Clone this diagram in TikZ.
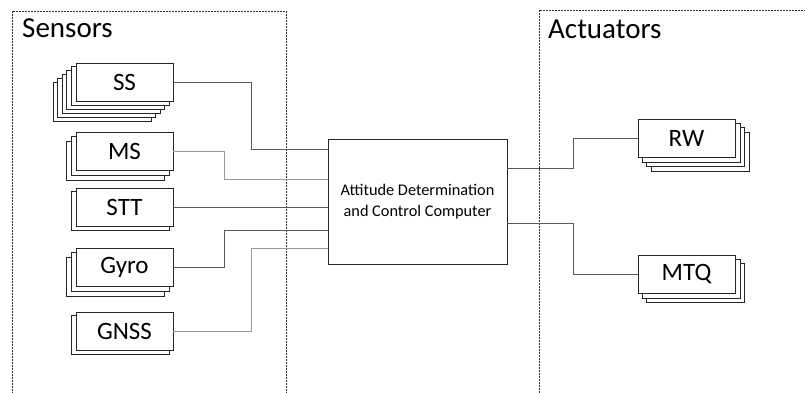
\documentclass[tikz,border=0pt]{standalone}
\usepackage{fontspec}
\setmainfont{Carlito}
\usetikzlibrary{backgrounds}

% Stack of copies behind a unit box: node name, number of copies, x step, y step
\newcommand{\deckbehind}[4]{%
  \begin{scope}[on background layer]
    \foreach \k in {#2,...,1}
      \draw[layer] ([shift={(\k*#3,\k*#4)}]#1.north west) rectangle ([shift={(\k*#3,\k*#4)}]#1.south east);
  \end{scope}}

\begin{document}
\begin{tikzpicture}[x=1pt,y=-1pt,
  unit/.style={draw=black!85, line width=0.8pt, fill=white, minimum width=97pt,
    minimum height=38pt, inner sep=0pt, font=\fontsize{25}{28}\selectfont},
  layer/.style={draw=black!85, line width=0.7pt, fill=white},
  conn/.style={draw=black!65, line width=0.6pt},
  connlight/.style={draw=black!40, line width=0.6pt},
  frame/.style={draw=black!80, line width=0.7pt, dash pattern=on 1.6pt off 1.4pt},
  group/.style={font=\fontsize{29}{32}\selectfont, anchor=base west, inner sep=0pt}]

\useasboundingbox (0,0) rectangle (805,392);
\clip (0,0) rectangle (805,392);

% group frames
\draw[frame] (12,11) rectangle (286,400);
\draw[frame] (539,10) rectangle (812,400);
\node[group] (sens) at (22,37) {Sensors};
\node[group] (act) at (548,38) {Actuators};

% sensors
\node[unit] (ss)   at (124.5,82)    {SS};
\node[unit] (ms)   at (124.5,151.5) {MS};
\node[unit] (stt)  at (124.5,207)   {STT};
\node[unit] (gyro) at (124.5,267.5) {Gyro};
\node[unit] (gnss) at (124.5,331)   {GNSS};
\deckbehind{ss}{5}{-4.5}{4}
\deckbehind{ms}{2}{-4.5}{4.5}
\deckbehind{stt}{1}{-4.5}{4}
\deckbehind{gyro}{2}{-4.5}{4.5}
\deckbehind{gnss}{1}{-4.5}{4}

% actuators
\node[unit] (rw)  at (686.5,138) {RW};
\node[unit] (mtq) at (686.5,274) {MTQ};
\deckbehind{rw}{3}{4.5}{4.5}
\deckbehind{mtq}{2}{4.5}{4.5}

% on-board computer
\node[draw=black!85, line width=0.8pt, minimum width=179pt, minimum height=125pt,
  align=center, font=\fontsize{16.3}{21}\selectfont] (adcc) at (417.5,201.5)
  {Attitude Determination\\and Control Computer};

% ports on the computer
\path (adcc.west) ++(0,-52.5) coordinate (inSS)
      (adcc.west) ++(0,-22.5) coordinate (inMS)
      (adcc.west) ++(0,5.5)   coordinate (inSTT)
      (adcc.west) ++(0,28.5)  coordinate (inGyro)
      (adcc.west) ++(0,46.5)  coordinate (inGNSS)
      (adcc.east) ++(0,-33.5) coordinate (outRW)
      (adcc.east) ++(0,21.5)  coordinate (outMTQ);

% connectors
\draw[conn]      (ss.east)   -- ++(78,0) |- (inSS);
\draw[connlight] (ms.east)   -- ++(51,0) |- (inMS);
\draw[conn]      (stt.east)  -- (inSTT);
\draw[conn]      (gyro.east) -- ++(51,0) |- (inGyro);
\draw[connlight] (gnss.east) -- ++(78,0) |- (inGNSS);
\draw[conn]      (outRW)     -- ++(66,0) |- (rw.west);
\draw[conn]      (outMTQ)    -- ++(66,0) |- (mtq.west);
\end{tikzpicture}
\end{document}
